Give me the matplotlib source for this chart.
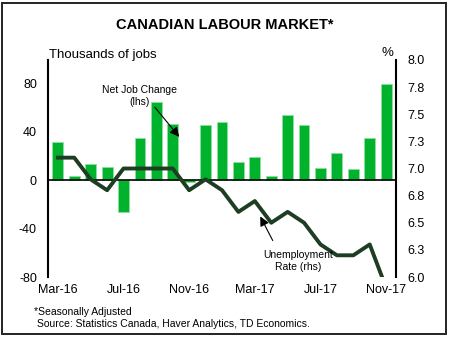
import numpy as np
import matplotlib
matplotlib.use("Agg")
from matplotlib import pyplot as plt
from matplotlib.patches import Rectangle

months = ["Mar-16", "Apr-16", "May-16", "Jun-16", "Jul-16", "Aug-16", "Sep-16",
          "Oct-16", "Nov-16", "Dec-16", "Jan-17", "Feb-17", "Mar-17", "Apr-17",
          "May-17", "Jun-17", "Jul-17", "Aug-17", "Sep-17", "Oct-17", "Nov-17"]
job_change = [31, 3, 13, 11, -26, 35, 64, 46, -2, 45, 48, 15, 19, 3,
              54, 45, 10, 22, 9, 35, 79]
unemp_rate = [7.1, 7.1, 6.9, 6.8, 7.0, 7.0, 7.0, 7.0, 6.8, 6.9, 6.8, 6.6, 6.7, 6.5,
              6.6, 6.5, 6.3, 6.2, 6.2, 6.3, 5.9]
left_ticks = [-80, -40, 0, 40, 80]
right_ticks = [6.0, 6.25, 6.5, 6.75, 7.0, 7.25, 7.5, 7.75, 8.0]

plt.rcParams['font.family'] = ['Liberation Sans', 'DejaVu Sans']

fig = plt.figure(figsize=(4.5, 3.39), dpi=100)
W, H = 450, 339

def fx(px):
    return px / W

def fy(py):
    return 1 - py / H

# frame around the whole figure
fig.patches.append(Rectangle((fx(2), fy(334)), fx(444), 331 / H, transform=fig.transFigure,
                             fill=False, edgecolor="#222222", linewidth=1.4))

ax = fig.add_axes([fx(48), fy(277), fx(348), (277 - 60) / H])
x = np.arange(len(months))
ax.bar(x, job_change, width=0.66, color="#00b22c", edgecolor="#8fe09f", linewidth=0.6, zorder=2)
ax.axhline(0, color="black", linewidth=1.2, zorder=3)
ax.set_ylim(-80, 99)
ax.set_xlim(-0.6, len(months) - 0.4)
ax.set_yticks(left_ticks)
ax.set_yticklabels([str(t) for t in left_ticks])
ax.set_xticks(x[::4])
ax.set_xticklabels(months[::4])
ax.tick_params(axis="both", length=0, labelsize=9)
ax.tick_params(axis="y", pad=8)
ax.tick_params(axis="x", pad=5)
for s in ["top", "right", "bottom"]:
    ax.spines[s].set_visible(False)
ax.spines["left"].set_linewidth(1.5)

ax2 = ax.twinx()
ax2.plot(x, unemp_rate, color="#1e3d22", linewidth=2.8, zorder=4)
ax2.set_ylim(6.0, 8.0)
ax2.set_yticks(right_ticks)
ax2.set_yticklabels(["%.1f" % (round(t * 10 + 0.01) / 10) for t in right_ticks])
ax2.tick_params(axis="y", length=0, labelsize=9, pad=8)
for s in ["top", "left", "bottom"]:
    ax2.spines[s].set_visible(False)
ax2.spines["right"].set_linewidth(1.5)

fig.text(0.5, fy(25), "CANADIAN LABOUR MARKET*", ha="center", va="center",
         fontsize=10.5, fontweight="bold")
fig.text(fx(49), fy(55), "Thousands of jobs", ha="left", va="center", fontsize=9.5)
fig.text(fx(387), fy(53), "%", ha="center", va="center", fontsize=9.5)

fig.text(fx(140), fy(96), "Net Job Change\n(lhs)", ha="center", va="center",
         fontsize=7.5, linespacing=1.3)
fig.text(fx(298), fy(261), "Unemployment\nRate (rhs)", ha="center", va="center",
         fontsize=7.5, linespacing=1.3)
arrow = dict(arrowstyle="-|>", color="black", lw=0.8, mutation_scale=14)
ax.annotate("", xy=(fx(181), fy(139)), xytext=(fx(153), fy(105)),
            xycoords="figure fraction", textcoords="figure fraction", arrowprops=arrow)
ax.annotate("", xy=(fx(259), fy(214)), xytext=(fx(274), fy(243)),
            xycoords="figure fraction", textcoords="figure fraction", arrowprops=arrow)

fig.text(fx(34), fy(312), "*Seasonally Adjusted", ha="left", va="center", fontsize=7.5)
fig.text(fx(37), fy(324), "Source: Statistics Canada, Haver Analytics, TD Economics.",
         ha="left", va="center", fontsize=7.5)

fig.savefig("out.png", dpi=100)
